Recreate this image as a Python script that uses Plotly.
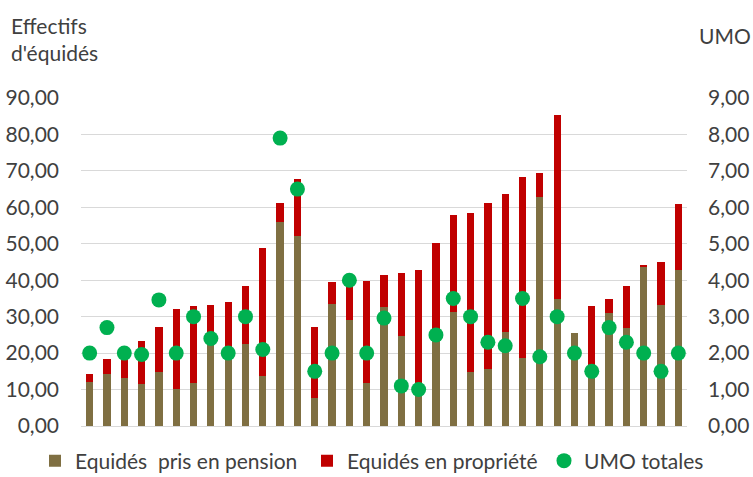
import plotly.graph_objects as go

categories = [str(i) for i in range(1, 36)]

pension = [12.2, 14.4, 13.1, 11.6, 14.8, 10.2, 11.9, 23.5, 20.0, 22.4,
           13.7, 56.0, 52.0, 7.8, 33.5, 29.1, 11.9, 32.6, 24.7, 9.0,
           23.2, 31.2, 14.8, 15.6, 25.7, 18.7, 62.9, 34.8, 25.6, 16.0,
           31.0, 26.8, 43.8, 33.2, 42.9]

propriete = [2.1, 3.9, 7.4, 11.6, 12.3, 22.0, 21.0, 9.7, 13.9, 16.1,
             35.2, 5.2, 15.9, 19.3, 6.0, 10.9, 28.0, 8.9, 17.4, 33.7,
             27.1, 26.8, 43.6, 45.6, 38.0, 49.6, 6.5, 50.5, 0.0, 16.9,
             3.8, 11.7, 0.3, 11.8, 18.0]

umo = [2.0, 2.7, 2.0, 1.96, 3.46, 2.0, 3.0, 2.4, 2.0, 3.0,
       2.1, 7.9, 6.5, 1.5, 2.0, 4.0, 2.0, 2.96, 1.1, 1.0,
       2.5, 3.5, 3.0, 2.3, 2.2, 3.5, 1.9, 3.0, 2.0, 1.5,
       2.7, 2.3, 2.0, 1.5, 2.0]

OLIVE = "#7F6F42"
RED = "#C00000"
GREEN = "#00B050"
TXT = "#404040"
GRID = "#D9D9D9"
FONT = "Lato"
FS = 21
W, H = 753, 477

fig = go.Figure()
fig.add_bar(x=categories, y=pension, name="Equidés \u00a0pris en pension",
            marker=dict(color=OLIVE, line=dict(width=0)), legend="legend")
fig.add_bar(x=categories, y=propriete, name="Equidés en propriété",
            marker=dict(color=RED, line=dict(width=0)), legend="legend2")
fig.add_scatter(x=categories, y=umo, mode="markers", name="UMO totales",
                marker=dict(color=GREEN, size=15), yaxis="y2", legend="legend3")


def leg(px_left):
    return dict(orientation="h", xref="container", yref="container",
                x=px_left / W, xanchor="left", y=(H - 461) / H, yanchor="middle",
                font=dict(family=FONT, size=FS, color=TXT), itemwidth=30,
                bgcolor="rgba(0,0,0,0)", borderwidth=0)


fig.update_layout(
    width=W, height=H,
    margin=dict(l=81, r=66, t=98, b=51, autoexpand=False),
    paper_bgcolor="white", plot_bgcolor="white",
    barmode="stack", bargap=0.58,
    separators=", ",
    font=dict(family=FONT, size=FS, color=TXT),
    showlegend=True,
    legend=leg(35),
    legend2=leg(307),
    legend3=leg(544),
    xaxis=dict(showticklabels=False, showgrid=False, showline=False, zeroline=False,
               ticks="", range=[-0.5, 34.5], automargin=False),
    yaxis=dict(range=[0, 90], dtick=10, tick0=0, tickformat=".2f",
               showgrid=True, gridcolor=GRID, gridwidth=1.3,
               zeroline=True, zerolinecolor=GRID, zerolinewidth=1.3,
               showline=False, ticks="", ticklabelstandoff=21, automargin=False,
               tickfont=dict(family=FONT, size=FS, color=TXT)),
    yaxis2=dict(range=[0, 9], dtick=1, tick0=0, tickformat=".2f",
                overlaying="y", side="right", showgrid=False, zeroline=False,
                showline=False, ticks="", ticklabelstandoff=20, automargin=False,
                tickfont=dict(family=FONT, size=FS, color=TXT)),
    annotations=[
        dict(text="Effectifs", xref="paper", yref="paper", x=-0.1188, y=1.222,
             xanchor="left", yanchor="middle", showarrow=False,
             font=dict(family=FONT, size=FS, color=TXT)),
        dict(text="d'équidés", xref="paper", yref="paper", x=-0.1188, y=1.138,
             xanchor="left", yanchor="middle", showarrow=False,
             font=dict(family=FONT, size=FS, color=TXT)),
        dict(text="UMO", xref="paper", yref="paper", x=1.017, y=1.190,
             xanchor="left", yanchor="middle", showarrow=False,
             font=dict(family=FONT, size=FS, color=TXT)),
    ],
)

fig.write_html("out.html", config={"displayModeBar": False},
               post_script="document.body.style.margin='0';document.body.style.overflow='hidden';")
